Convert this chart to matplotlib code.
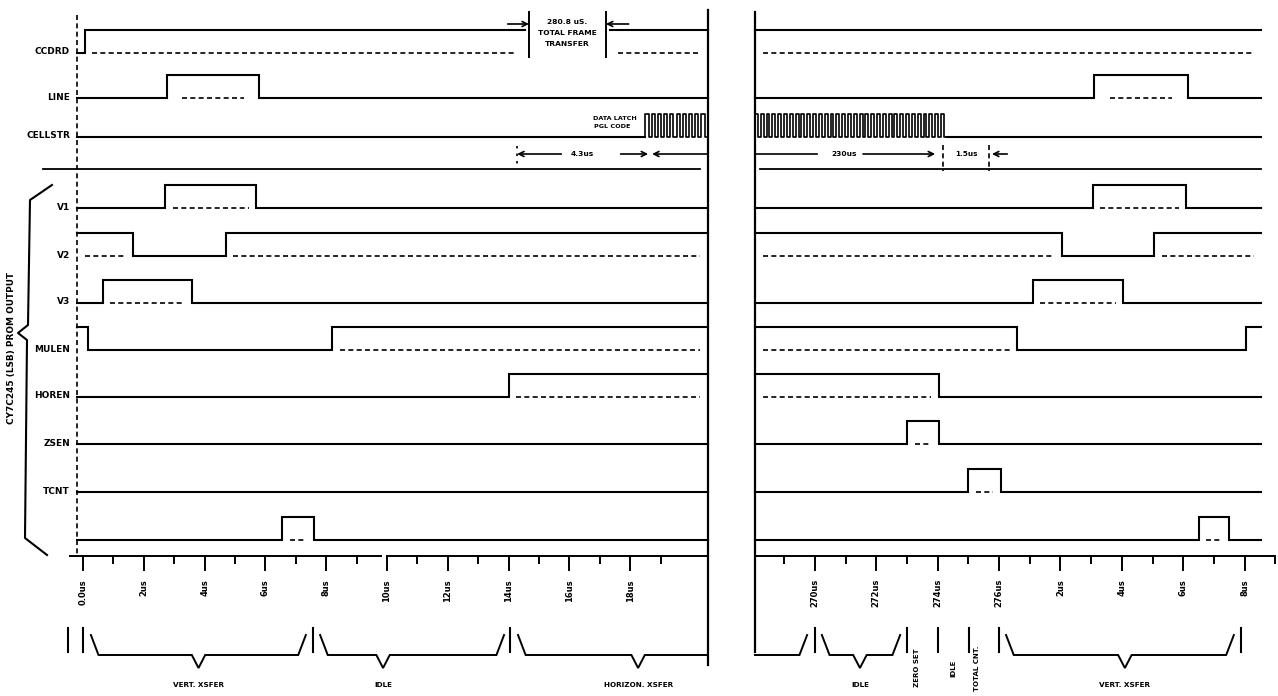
import matplotlib
matplotlib.use("Agg")
import matplotlib.pyplot as plt

W, H, DPI = 1278, 696, 100

# ---------------- data (times in microseconds) ----------------
signal_names = ["CCDRD", "LINE", "CELLSTR", "V1", "V2", "V3", "MULEN", "HOREN", "ZSEN", "TCNT", ""]
left_init = [0, 0, 0, 0, 1, 0, 1, 0, 0, 0, 0]
left_edges = [[0.05], [2.75, 5.8], [], [2.7, 5.7], [1.65, 4.7], [0.65, 3.6],
              [0.15, 8.2], [14.0], [], [], [6.55, 7.6]]
right_init = [1, 0, 0, 0, 1, 0, 1, 1, 0, 0, 0]
right_edges = [[], [279.1, 282.15], [], [279.05, 282.1], [278.05, 281.05], [277.1, 280.05],
               [276.6, 284.05], [274.05], [273.0, 274.05], [275.0, 276.05], [282.5, 283.5]]

left_span = (-0.2, 20.55)
right_span = (268.05, 284.55)
ccdrd_gap = (14.54, 17.34)          # break in CCDRD for the frame-transfer note

cellstr_left = (18.5, 20.55, 10)    # start, end, pulses
cellstr_right = (268.05, 274.3, 33)

left_ticks = [0, 2, 4, 6, 8, 10, 12, 14, 16, 18]
left_tick_labels = ["0.0us", "2us", "4us", "6us", "8us", "10us", "12us", "14us", "16us", "18us"]
left_minor = [1, 3, 5, 7, 9, 11, 13, 15, 17, 19]
right_ticks = [270, 272, 274, 276, 278, 280, 282, 284]
right_tick_labels = ["270us", "272us", "274us", "276us", "2us", "4us", "6us", "8us"]
right_minor = [269, 271, 273, 275, 277, 279, 281, 283, 285]

frame_note = ["280.8 uS.", "TOTAL FRAME", "TRANSFER"]
frame_marks = (14.67, 17.2)
latch_arrow = (14.28, 18.59)        # 4.3us
cell_arrow_end = 273.92             # 230us
gap_marks = (274.18, 275.67)        # 1.5us

left_bars = [-0.49, 0.0, 7.57, 14.05]
right_bars = [270.0, 273.0, 274.01, 275.02, 276.0, 283.88]
# brackets: (start, end, V position, label)
left_brackets = [(0.26, 7.33, 3.8, "VERT. XSFER"),
                 (7.8, 13.85, 9.87, "IDLE"),
                 (14.31, 20.55, 18.26, "HORIZON. XSFER")]
right_brackets = [(270.23, 272.78, 271.47, "IDLE"),
                  (276.23, 283.65, 280.1, "VERT. XSFER")]
right_vlabels = [(273.33, "ZERO SET"), (274.5, "IDLE"), (275.28, "TOTAL CNT.")]

# ---------------- layout (pixel rows) ----------------
row_low = [53, 98, 137, 208, 256, 303, 350, 397, 444, 492, 540]
AMP = 23
SEP_Y = 169
AXIS_Y = 556
LW = 1.5

fig = plt.figure(figsize=(W / DPI, H / DPI), dpi=DPI)
fig.patch.set_facecolor("white")

def t_left(px):
    return (px - 83) / 30.4

def t_right(px):
    return 276 + (px - 999) / 30.7

def make_ax(px0, px1, conv):
    ax = fig.add_axes([px0 / W, 0, (px1 - px0) / W, 1])
    ax.set_xlim(conv(px0), conv(px1))
    ax.set_ylim(H, 0)
    ax.axis("off")
    return ax

axL = make_ax(0, 740, t_left)
axR = make_ax(740, W, t_right)
ov = fig.add_axes([0, 0, 1, 1])
ov.set_xlim(0, W); ov.set_ylim(H, 0); ov.axis("off")
ov.patch.set_alpha(0)

FONT = dict(family="DejaVu Sans", weight="bold", color="black")

def level_at(init, edges, t):
    lvl = init
    for e in edges:
        if e <= t:
            lvl = 1 - lvl
    return lvl

def draw_signal(ax, y, init, edges, t0, t1, inset=0.25):
    lvl = level_at(init, edges, t0)
    xs, ys = [t0], [y - AMP * lvl]
    highs = []
    start_hi = t0 if lvl else None
    for e in edges:
        if t0 < e < t1:
            xs += [e, e]
            ys += [y - AMP * lvl, y - AMP * (1 - lvl)]
            lvl = 1 - lvl
            if lvl:
                start_hi = e
            else:
                highs.append((start_hi, e))
    xs.append(t1); ys.append(y - AMP * lvl)
    if lvl:
        highs.append((start_hi, t1))
    ax.plot(xs, ys, color="k", lw=LW, solid_joinstyle="miter", clip_on=False)
    for a, b in highs:
        if b - a > 2 * inset + 0.05:
            ax.plot([a + inset, b - inset], [y, y], color="k", lw=1.2,
                    linestyle=(0, (3, 2.0)), clip_on=False)

def burst(ax, y, t0, t1, n):
    p = (t1 - t0) / n
    xs, ys = [], []
    for k in range(n):
        a = t0 + k * p
        xs += [a, a, a + p / 2, a + p / 2]
        ys += [y, y - AMP, y - AMP, y]
    xs.append(t1); ys.append(y)
    ax.plot(xs, ys, color="k", lw=1.2, clip_on=False)

# ---------------- signals ----------------
for i, name in enumerate(signal_names):
    y = row_low[i]
    inset = 0.5 if name == "LINE" else 0.25
    if name == "CELLSTR":
        axL.plot([left_span[0], cellstr_left[0]], [y, y], color="k", lw=LW)
        burst(axL, y, *cellstr_left)
        burst(axR, y, *cellstr_right)
        axR.plot([cellstr_right[1], right_span[1]], [y, y], color="k", lw=LW)
    elif name == "CCDRD":
        draw_signal(axL, y, left_init[i], left_edges[i], left_span[0], ccdrd_gap[0], inset)
        draw_signal(axL, y, left_init[i], left_edges[i], ccdrd_gap[1], left_span[1], inset)
        draw_signal(axR, y, right_init[i], right_edges[i], right_span[0], right_span[1], inset)
    else:
        draw_signal(axL, y, left_init[i], left_edges[i], left_span[0], left_span[1], inset)
        draw_signal(axR, y, right_init[i], right_edges[i], right_span[0], right_span[1], inset)
    if name:
        ov.text(70, y - 1, name, ha="right", va="center", fontsize=6.5, **FONT)

# separator line
axL.plot([t_left(43), t_left(700)], [SEP_Y, SEP_Y], color="k", lw=1.3)
axR.plot([t_right(760), right_span[1]], [SEP_Y, SEP_Y], color="k", lw=1.3)

# panel borders
axL.plot([left_span[0], left_span[0]], [15, AXIS_Y], color="k", lw=1.2, linestyle=(0, (3, 2)))
axL.plot([left_span[1], left_span[1]], [10, 665], color="k", lw=1.6)
axR.plot([right_span[0], right_span[0]], [12, 652], color="k", lw=1.6)

# ---------------- time axes ----------------
axL.plot([t_left(70), 9.8], [AXIS_Y, AXIS_Y], color="k", lw=1.4)
axL.plot([10.0, left_span[1]], [AXIS_Y, AXIS_Y], color="k", lw=1.4)
for t, lab in zip(left_ticks, left_tick_labels):
    axL.plot([t, t], [AXIS_Y, AXIS_Y + 14], color="k", lw=1.4)
    axL.text(t, 579, lab, rotation=90, ha="center", va="top", fontsize=6, **FONT)
for t in left_minor:
    axL.plot([t, t], [AXIS_Y, AXIS_Y + 7], color="k", lw=1.4)
axR.plot([right_span[0], t_right(1274)], [AXIS_Y, AXIS_Y], color="k", lw=1.4)
for t, lab in zip(right_ticks, right_tick_labels):
    axR.plot([t, t], [AXIS_Y, AXIS_Y + 14], color="k", lw=1.4)
    axR.text(t, 579, lab, rotation=90, ha="center", va="top", fontsize=6, **FONT)
for t in right_minor:
    axR.plot([t, t], [AXIS_Y, AXIS_Y + 7], color="k", lw=1.4)

# ---------------- annotations ----------------
ARW = dict(arrowstyle="->", color="k", lw=1.2, mutation_scale=9, shrinkA=0, shrinkB=0)
# total frame transfer
for t in frame_marks:
    axL.plot([t, t], [12, 57], color="k", lw=1.4)
axL.annotate("", xy=(frame_marks[0], 24), xytext=(frame_marks[0] - 0.7, 24), arrowprops=ARW)
axL.annotate("", xy=(frame_marks[1], 24), xytext=(frame_marks[1] + 0.75, 24), arrowprops=ARW)
fc = sum(frame_marks) / 2
for k, line in enumerate(frame_note):
    axL.text(fc, 22 + 11 * k, line, ha="center", va="center", fontsize=5.4, **FONT)

# data latch note
axL.text(17.5, 118, "DATA LATCH", ha="center", va="center", fontsize=4.6, **FONT)
axL.text(17.4, 127, "PGL CODE", ha="center", va="center", fontsize=4.6, **FONT)

# 4.3us arrows
AY = 154
lc = sum(latch_arrow) / 2
axL.annotate("", xy=(latch_arrow[0], AY), xytext=(lc - 0.7, AY), arrowprops=ARW)
axL.annotate("", xy=(latch_arrow[1], AY), xytext=(lc + 1.25, AY), arrowprops=ARW)
axL.text(lc, AY, "4.3us", ha="center", va="center", fontsize=5.4, **FONT)
axL.annotate("", xy=(latch_arrow[1] + 0.13, AY), xytext=(left_span[1], AY), arrowprops=ARW)
axL.plot([latch_arrow[0], latch_arrow[0]], [146, 168], color="k", lw=1.2, linestyle=(0, (1.5, 3)))

# 230us / 1.5us
axR.plot([right_span[0], 270.07], [AY, AY], color="k", lw=1.2)
axR.text(270.95, AY, "230us", ha="center", va="center", fontsize=5.4, **FONT)
axR.annotate("", xy=(cell_arrow_end, AY), xytext=(271.57, AY), arrowprops=ARW)
for t in gap_marks:
    axR.plot([t, t], [145, 171], color="k", lw=1.2, linestyle=(0, (3, 2)))
axR.text(sum(gap_marks) / 2, AY, "1.5us", ha="center", va="center", fontsize=5.2, **FONT)
axR.annotate("", xy=(gap_marks[1] + 0.1, AY), xytext=(gap_marks[1] + 0.6, AY), arrowprops=ARW)

# ---------------- brace and group label ----------------
ov.plot([52, 30, 28, 18, 27, 25, 47], [185, 200, 325, 333, 340, 538, 555], color="k", lw=1.5)
ov.text(12, 348, "CY7C245 (LSB) PROM OUTPUT", rotation=90, ha="center", va="center",
        fontsize=6.4, **FONT)

# ---------------- bottom phase brackets ----------------
BAR0, BAR1 = 628, 652
YT, YH, YV, YL = 635, 655, 668, 685

def bracket(ax, a, b, v, label, left_up=True, right_up=True, dv=0.22, ds=0.25):
    xs, ys = [], []
    if left_up:
        xs += [a, a + ds]; ys += [YT, YH]
    else:
        xs += [a]; ys += [YH]
    if v is not None:
        xs += [v - dv, v, v + dv]; ys += [YH, YV, YH]
    if right_up:
        xs += [b - ds, b]; ys += [YH, YT]
    else:
        xs += [b]; ys += [YH]
    ax.plot(xs, ys, color="k", lw=1.4, solid_joinstyle="miter")
    if label:
        ax.text(v, YL, label, ha="center", va="center", fontsize=5.2, **FONT)

for t in left_bars:
    axL.plot([t, t], [BAR0, BAR1], color="k", lw=1.5)
for t in right_bars:
    axR.plot([t, t], [BAR0, BAR1], color="k", lw=1.5)
for k, (a, b, v, lab) in enumerate(left_brackets):
    bracket(axL, a, b, v, lab, right_up=(k < 2))
bracket(axR, right_span[0], 269.75, None, "", left_up=False)
for a, b, v, lab in right_brackets:
    bracket(axR, a, b, v, lab)
for t, lab in right_vlabels:
    axR.text(t, 668, lab, rotation=90, ha="center", va="center", fontsize=5, **FONT)

fig.savefig("out.png", dpi=DPI, facecolor="white")
